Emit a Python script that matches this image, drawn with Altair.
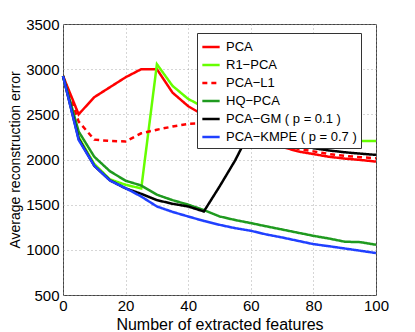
import altair as alt
import pandas as pd

x_vals = [0, 5, 10, 15, 20, 25, 30, 35, 40, 45, 50, 55, 60, 65, 70, 75, 80, 85, 90, 95, 100]

pca = [2925, 2500, 2690, 2800, 2910, 3000, 3000, 2740, 2590, 2490, 2400, 2320, 2250, 2190, 2140, 2090, 2060, 2030, 2010, 1995, 1977]
r1_pca = [2925, 2250, 1950, 1780, 1720, 1680, 3055, 2815, 2670, 2580, 2450, 2330, 2240, 2225, 2220, 2215, 2215, 2210, 2208, 2206, 2205]
pca_l1 = [2925, 2420, 2220, 2205, 2200, 2290, 2330, 2365, 2395, 2400, 2370, 2330, 2290, 2230, 2170, 2120, 2090, 2060, 2040, 2025, 2014]
hq_pca = [2925, 2310, 2030, 1870, 1765, 1712, 1610, 1550, 1500, 1440, 1370, 1330, 1296, 1260, 1225, 1190, 1155, 1125, 1090, 1085, 1056]
pca_gm = [2925, 2230, 1930, 1770, 1680, 1620, 1550, 1510, 1480, 1425, 1700, 1990, 2330, 2270, 2220, 2170, 2125, 2100, 2080, 2065, 2051]
pca_kmpe = [2925, 2217, 1930, 1767, 1683, 1590, 1480, 1420, 1369, 1320, 1277, 1240, 1211, 1170, 1137, 1100, 1063, 1040, 1015, 990, 964]

series_names = ["PCA", "R1\u2212PCA", "PCA\u2212L1", "HQ\u2212PCA",
                "PCA\u2212GM ( p = 0.1 )", "PCA\u2212KMPE ( p = 0.7 )"]
series_vals = [pca, r1_pca, pca_l1, hq_pca, pca_gm, pca_kmpe]
colors = ["#ff0000", "#66ff00", "#ff0000", "#1f9a1f", "#000000", "#2040ff"]
dashes = [[1, 0], [1, 0], [5, 4], [1, 0], [1, 0], [1, 0]]

rows = []
for name, vals in zip(series_names, series_vals):
    for xv, yv in zip(x_vals, vals):
        rows.append({"x": xv, "y": yv, "series": name})
df = pd.DataFrame(rows)

font = "Liberation Sans"

chart = alt.Chart(df).mark_line(strokeWidth=2.5).encode(
    x=alt.X("x:Q", scale=alt.Scale(domain=[0, 100], nice=False),
            axis=alt.Axis(values=[0, 20, 40, 60, 80, 100], title="Number of extracted features",
                          grid=True, gridDash=[1, 3], gridColor="#999999", gridOpacity=0.8,
                          ticks=False, labelPadding=3, domain=False, format="d",
                          labelFontSize=15, titleFontSize=16, titleFontWeight="normal",
                          labelColor="#000", titleColor="#000", titlePadding=3,
                          labelFont=font, titleFont=font, labelFlush=False)),
    y=alt.Y("y:Q", scale=alt.Scale(domain=[500, 3500], nice=False),
            axis=alt.Axis(values=[500, 1000, 1500, 2000, 2500, 3000, 3500],
                          title="Average reconstruction error", format="d",
                          grid=True, gridDash=[1, 3], gridColor="#999999", gridOpacity=0.8,
                          ticks=False, labelPadding=4, domain=False,
                          labelFontSize=15, titleFontSize=14, titleFontWeight="normal",
                          labelColor="#000", titleColor="#000", titlePadding=3,
                          labelFont=font, titleFont=font)),
    color=alt.Color("series:N", scale=alt.Scale(domain=series_names, range=colors),
                    sort=series_names,
                    legend=alt.Legend(title=None, orient="none", legendX=134, legendY=9,
                                      symbolType="stroke", symbolSize=300, symbolStrokeWidth=2.5,
                                      labelFontSize=13, labelFont=font, labelColor="#000",
                                      rowPadding=1, padding=4, strokeColor="#333333",
                                      fillColor="white", labelOffset=5)),
    strokeDash=alt.StrokeDash("series:N", scale=alt.Scale(domain=series_names, range=dashes),
                              sort=series_names, legend=None),
    order=alt.Order("x:Q"),
).properties(
    width=313, height=271,
    autosize=alt.AutoSizeParams(type="none"),
    padding={"left": 55, "top": 16, "right": 20, "bottom": 37},
).configure_view(stroke="#444444", strokeWidth=1)

chart.save("out.html", embed_options={"renderer": "svg", "actions": False})
